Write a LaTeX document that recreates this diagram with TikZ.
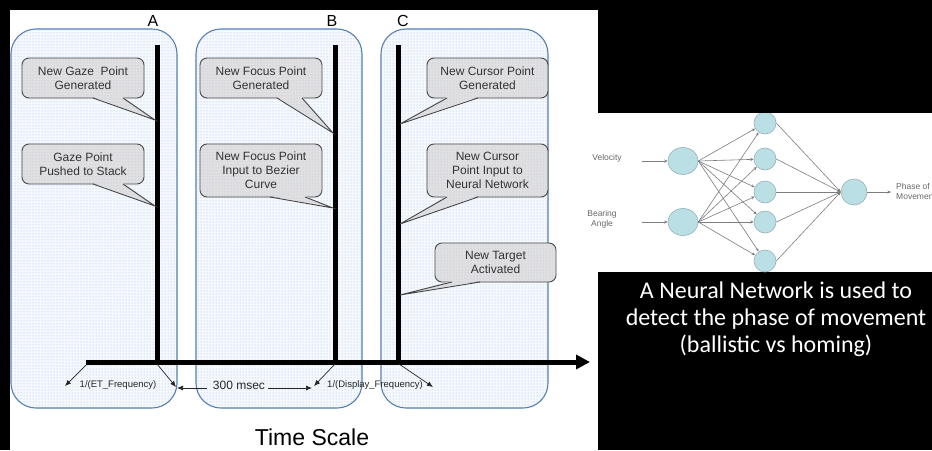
\documentclass[tikz,border=0pt]{standalone}
\usepackage{fontspec}
\setmainfont{Liberation Sans}
\newfontfamily\slidefont{Carlito}
\usetikzlibrary{arrows.meta,patterns,shapes.geometric}

\definecolor{panelline}{RGB}{84,125,176}
\definecolor{panelbg}{RGB}{246,249,253}
\definecolor{paneldot}{RGB}{150,185,225}
\definecolor{callfill}{RGB}{224,224,226}
\definecolor{calldot}{RGB}{180,188,204}
\definecolor{callline}{RGB}{70,70,70}
\definecolor{nnfill}{RGB}{186,223,228}
\definecolor{nnline}{RGB}{150,178,184}
\definecolor{nnedge}{RGB}{125,125,125}
\definecolor{nntext}{RGB}{105,105,105}

\tikzset{
  panel/.style={draw=panelline, line width=1.1pt, rounded corners=25pt, fill=panelbg,
    postaction={pattern=dots, pattern color=paneldot}, outer sep=0pt},
  callbox/.style={draw=callline, line width=0.9pt, rounded corners=7pt, fill=callfill,
    postaction={pattern=dots, pattern color=calldot}, align=center,
    font=\fontsize{12}{14}\selectfont, text=black!80, inner sep=0pt, outer sep=0pt},
  timeline/.style={line width=5pt, black},
  axisline/.style={line width=5pt, black, -{Triangle[length=14pt,width=14pt]}},
  smallarrow/.style={line width=0.7pt, black!85, -{Latex[length=6pt,width=5pt]}},
  freqlabel/.style={font=\fontsize{9.5}{11}\selectfont, text=black!85, inner sep=0pt},
  letterlabel/.style={font=\fontsize{16}{18}\selectfont, inner sep=0pt},
  nnin/.style={ellipse, draw=nnline, fill=nnfill, line width=0.6pt, minimum width=30pt, minimum height=27pt, inner sep=0pt},
  nnhid/.style={circle, draw=nnline, fill=nnfill, line width=0.6pt, minimum size=22pt, inner sep=0pt},
  nnout/.style={circle, draw=nnline, fill=nnfill, line width=0.6pt, minimum size=26pt, inner sep=0pt},
  nnedge/.style={draw=nnedge, line width=0.6pt, -{Stealth[length=3.5pt,width=3pt]}},
  nnlabel/.style={font=\fontsize{8.5}{10}\selectfont, text=nntext, inner sep=0pt},
}

% pointer of a callout: box name, base offsets from its left side, tip
\newcommand\calloutptr[4]{%
  \fill[callfill, postaction={pattern=dots, pattern color=calldot}]
    ([xshift=#2pt,yshift=1.2pt]#1.south west) -- (#4) -- ([xshift=#3pt,yshift=1.2pt]#1.south west) -- cycle;
  \draw[callline, line width=0.9pt, line join=miter]
    ([xshift=#2pt]#1.south west) -- (#4) -- ([xshift=#3pt]#1.south west);}

\begin{document}
\begin{tikzpicture}[x=1pt, y=-1pt]
\useasboundingbox (0,0) rectangle (932,450);
% page background
\fill[black] (0,0) rectangle (932,450);
\fill[white] (10,10) rectangle (598,450);
\fill[white] (598,113) rectangle (932,272);

% three time panels
\node[panel, minimum width=166pt, minimum height=379pt] (pA) at (94,218.5) {};
\node[panel, minimum width=166pt, minimum height=379pt] (pB) at (279,218.5) {};
\node[panel, minimum width=167pt, minimum height=379pt] (pC) at (464.5,218.5) {};

\node[letterlabel] (lA) at (153,21) {A};
\node[letterlabel] (lB) at (332,21) {B};
\node[letterlabel] (lC) at (403,21) {C};

% event lines and time axis
\coordinate (At) at (157,45); \coordinate (Ab) at (157,362);
\coordinate (Bt) at (335,45); \coordinate (Bb) at (335,362);
\coordinate (Ct) at (398,45); \coordinate (Cb) at (398,362);
\coordinate (ax0) at (86,362); \coordinate (ax1) at (590,362);
\draw[timeline] (At) -- (Ab);
\draw[timeline] (Bt) -- (Bb);
\draw[timeline] (Ct) -- (Cb);
\draw[axisline] (ax0) -- (ax1);

% callouts
\coordinate (tA1) at (155,120);
\coordinate (tA2) at (155,206);
\coordinate (tB1) at (333,133);
\coordinate (tB2) at (333,208);
\coordinate (tC1) at (400,124);
\coordinate (tC2) at (400,224);
\coordinate (tC3) at (400,295);

\node[callbox, minimum width=122pt, minimum height=40pt] (cA1) at (83,78) {New Gaze\ \ Point\\Generated};
\calloutptr{cA1}{71}{101}{tA1}
\node[callbox, minimum width=122pt, minimum height=40pt] (cA2) at (83,164) {Gaze Point\\Pushed to Stack};
\calloutptr{cA2}{71}{101}{tA2}
\node[callbox, minimum width=122pt, minimum height=40pt] (cB1) at (261,78) {New Focus Point\\Generated};
\calloutptr{cB1}{77}{102}{tB1}
\node[callbox, minimum width=122pt, minimum height=53pt] (cB2) at (261,170.5) {New Focus Point\\Input to Bezier\\Curve};
\calloutptr{cB2}{70}{105}{tB2}
\node[callbox, minimum width=121pt, minimum height=40pt] (cC1) at (487.5,78) {New Cursor Point\\Generated};
\calloutptr{cC1}{20}{51}{tC1}
\node[callbox, minimum width=121pt, minimum height=53pt] (cC2) at (487.5,170.5) {New Cursor\\Point Input to\\Neural Network};
\calloutptr{cC2}{20}{51}{tC2}
\node[callbox, minimum width=121pt, minimum height=39pt] (cC3) at (495.5,262.5) {New Target\\Activated};
\calloutptr{cC3}{17}{45}{tC3}

% interval annotations
\coordinate (eA0) at (87,364); \coordinate (eA1) at (65,386);
\coordinate (eB0) at (157,364); \coordinate (eB1) at (176,387);
\coordinate (dB0) at (335,364); \coordinate (dB1) at (314,386);
\coordinate (dC0) at (399,364); \coordinate (dC1) at (433,387);
\draw[smallarrow] (eA0) -- (eA1);
\draw[smallarrow] (eB0) -- (eB1);
\draw[smallarrow] (dB0) -- (dB1);
\draw[smallarrow] (dC0) -- (dC1);
\node[freqlabel] (fET) at (118,385) {1/(ET\_Frequency)};
\node[freqlabel] (fDF) at (375,385) {1/(Display\_Frequency)};

\node[font=\fontsize{12}{14}\selectfont, text=black!85, inner sep=0pt] (ms) at (239,385) {300 msec};
\coordinate (msL) at (207,388); \coordinate (msR) at (268,388);
\coordinate (msL1) at (177,388); \coordinate (msR1) at (312,388);
\draw[smallarrow] (msL) -- (msL1);
\draw[smallarrow] (msR) -- (msR1);

\node[font=\fontsize{23}{26}\selectfont, inner sep=0pt] (ts) at (312,437) {Time Scale};

% neural network
\begin{scope}
\clip (580,113) rectangle (932,272);
\node[nnin] (i1) at (683,161) {};
\node[nnin] (i2) at (683,222) {};
\foreach \n/\yy in {1/123,2/159,3/192,4/222,5/261}
  \node[nnhid] (h\n) at (765,\yy) {};
\node[nnout] (o) at (854,192) {};
\foreach \n in {1,...,5} {
  \draw[nnedge] (i1.east) -- (h\n);
  \draw[nnedge] (i2.east) -- (h\n);
  \draw[nnedge] (h\n.east) -- (o.west);
}
\coordinate (in1) at (642,161);
\coordinate (in2) at (642,222);
\coordinate (out1) at (891,192);
\draw[nnedge] (in1) -- (i1.west);
\draw[nnedge] (in2) -- (i2.west);
\draw[nnedge] (o.east) -- (out1);
\node[nnlabel] (lv) at (607,158) {Velocity};
\node[nnlabel, align=center] (lba) at (602,219) {Bearing\\Angle};
\node[nnlabel, align=left, anchor=west] (lph) at (896,191) {Phase of\\Movement};
\end{scope}

% slide caption
\node[font=\slidefont\fontsize{24}{27}\selectfont, text=white, align=center, inner sep=0pt] (cap) at (776,319)
  {A Neural Network is used to\\detect the phase of movement\\(ballistic vs homing)};
\end{tikzpicture}
\end{document}
